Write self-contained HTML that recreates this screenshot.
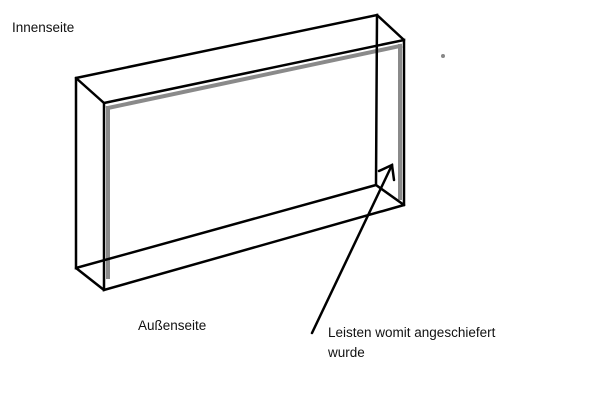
<!DOCTYPE html>
<html><head><meta charset="utf-8"><style>
html,body{margin:0;padding:0;background:#fff;width:600px;height:402px;overflow:hidden}
svg{display:block}
text{font-family:"Liberation Sans",sans-serif;font-size:13.5px;fill:#111}
</style></head><body>
<svg width="600" height="402" viewBox="0 0 600 402">
<g stroke="#8a8a8a" stroke-width="4" fill="none" stroke-linecap="square">
<line x1="108" y1="108" x2="400" y2="46"/>
<line x1="108" y1="108" x2="108" y2="277"/>
<line x1="400" y1="46" x2="400" y2="198"/>
</g>
<g stroke="#000" stroke-width="2.5" fill="none" stroke-linecap="round">
<polygon points="76,78 377,15 376,185 76,268"/>
<polygon points="104,103 404,40 404,205 104,290"/>
<line x1="76" y1="78" x2="104" y2="103"/>
<line x1="377" y1="15" x2="404" y2="40"/>
<line x1="376" y1="185" x2="404" y2="205"/>
<line x1="76" y1="268" x2="104" y2="290"/>
<line x1="312" y1="333" x2="392" y2="165"/>
<polyline points="379,171 392,165 394,180"/>
</g>
<circle cx="443" cy="56" r="2" fill="#888"/>
<text x="12" y="32">Innenseite</text>
<text x="138" y="330">Außenseite</text>
<text x="328" y="337">Leisten womit angeschiefert</text>
<text x="328" y="357">wurde</text>
</svg>
</body></html>
